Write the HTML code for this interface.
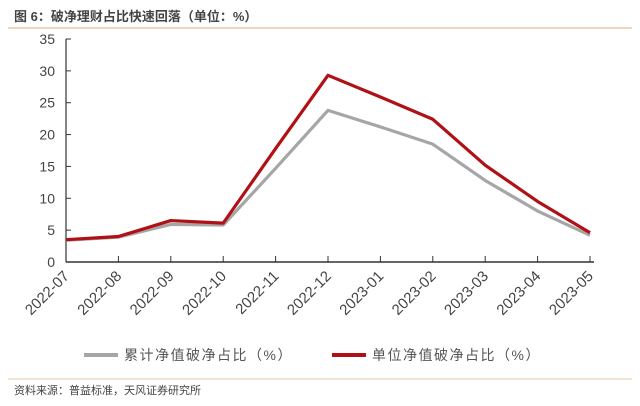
<!DOCTYPE html>
<html><head><meta charset="utf-8"><style>
body{margin:0;background:#fff;width:640px;height:401px;overflow:hidden;font-family:"Liberation Sans","Noto Sans CJK SC",sans-serif}
</style></head><body>
<svg width="640" height="401" xmlns="http://www.w3.org/2000/svg">
<text x="14" y="21" font-size="13" font-weight="bold" fill="#444" font-family="Liberation Sans,Noto Sans CJK SC,sans-serif">图 6：破净理财占比快速回落（单位：%）</text>
<line x1="8" y1="28" x2="632" y2="28" stroke="#e8c9a8" stroke-width="1.5"/>
<g id="yaxis"></g>
<g id="xaxis"></g>
<g id="series"></g>
<g>
<line x1="84" y1="355" x2="118" y2="355" stroke="#a6a6a6" stroke-width="4"/>
<text x="124" y="360" font-size="14" letter-spacing="1.5" fill="#555" font-family="Liberation Sans,Noto Sans CJK SC,sans-serif">累计净值破净占比（%）</text>
<line x1="332" y1="355" x2="366" y2="355" stroke="#b01116" stroke-width="4"/>
<text x="372" y="360" font-size="14" letter-spacing="1.5" fill="#555" font-family="Liberation Sans,Noto Sans CJK SC,sans-serif">单位净值破净占比（%）</text>
</g>
<line x1="8" y1="379" x2="632" y2="379" stroke="#e8c9a8" stroke-width="1"/>
<text x="14" y="394" font-size="11" fill="#444" font-family="Liberation Sans,Noto Sans CJK SC,sans-serif">资料来源：普益标准，天风证券研究所</text>
</svg>
<script>
const categories=["2022-07","2022-08","2022-09","2022-10","2022-11","2022-12","2023-01","2023-02","2023-03","2023-04","2023-05"];
const cumulativeValues=[3.4,3.9,5.9,5.8,14.7,23.8,21.2,18.5,12.8,8.0,4.2];
const unitValues=[3.5,4.0,6.5,6.1,17.8,29.3,25.9,22.4,15.2,9.5,4.6];
const yTicks=[0,5,10,15,20,25,30,35];
const NS="http://www.w3.org/2000/svg";
const x0=66,x1=590,y0=262,yTop=39,yMax=35;
function xs(i){return x0+(x1-x0)*i/(categories.length-1);}
function ys(v){return y0-(y0-yTop)*v/yMax;}
function mk(t,a){const e=document.createElementNS(NS,t);for(const k in a)e.setAttribute(k,a[k]);return e;}
const ya=document.getElementById('yaxis'),xa=document.getElementById('xaxis'),sg=document.getElementById('series');
let al=mk('line',{x1:x0,y1:yTop,x2:x0,y2:y0,stroke:'#333','stroke-width':1.2});


ya.appendChild(al);
yTicks.forEach(v=>{
 const t=mk('line',{x1:x0,y1:ys(v),x2:x0+5,y2:ys(v),stroke:'#333'});
 
 
 ya.appendChild(t);
 const l=mk('text',{x:x0-11,y:ys(v)+5,'font-size':14,fill:'#444','text-anchor':'end','font-family':'Liberation Sans,sans-serif'});
 l.textContent=v;
 
 
 ya.appendChild(l);
});
let bl=mk('line',{x1:x0,y1:y0,x2:x1+4,y2:y0,stroke:'#333','stroke-width':1.5});


xa.appendChild(bl);
categories.forEach((c,i)=>{
 const t=mk('line',{x1:xs(i),y1:y0,x2:xs(i),y2:y0-6,stroke:'#333'});
 
 
 xa.appendChild(t);
 const l=mk('text',{x:xs(i)+4,y:y0+15,'font-size':15,fill:'#444','text-anchor':'end','font-family':'Liberation Sans,sans-serif',transform:`rotate(-45 ${xs(i)+4} ${y0+15})`});
 l.textContent=c;
 
 
 xa.appendChild(l);
});
function line(vals,col,name){
 const p=mk('polyline',{points:vals.map((v,i)=>xs(i)+','+ys(v)).join(' '),fill:'none',stroke:col,'stroke-width':3.2,'stroke-linejoin':'round'});
 
 
 sg.appendChild(p);
}
line(cumulativeValues,'#a6a6a6','line-cumulative');
line(unitValues,'#b01116','line-unit');
</script>
</body></html>
